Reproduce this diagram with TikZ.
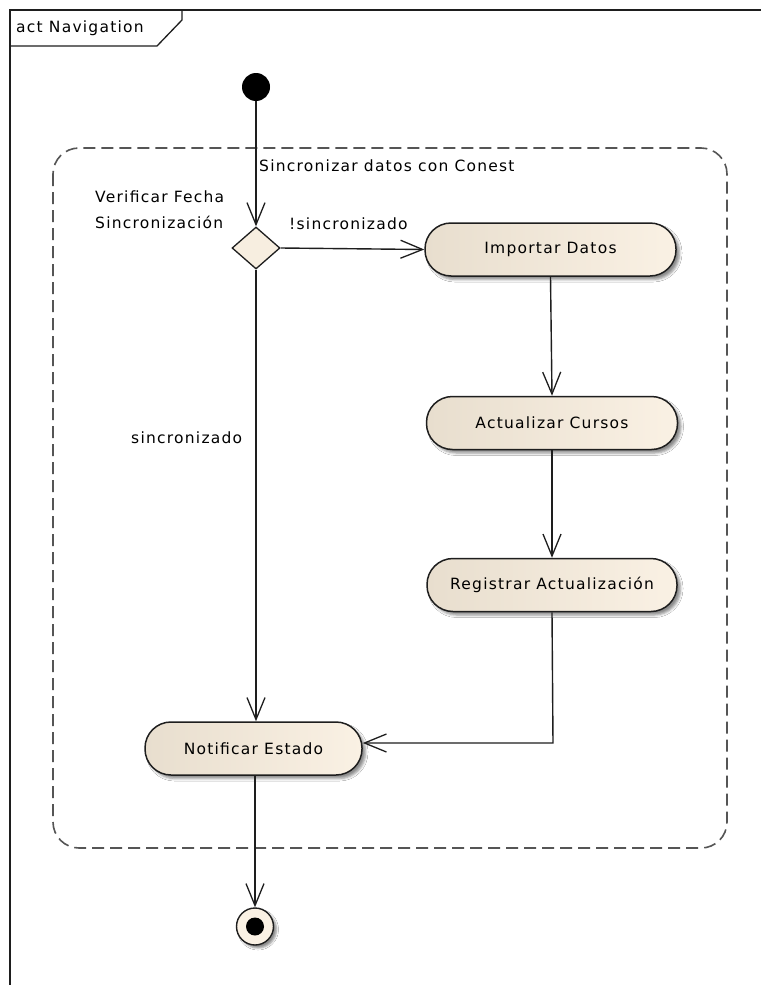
\documentclass[tikz,border=0pt]{standalone}
\usepackage{fontspec}
\setmainfont{DejaVu Sans}[LetterSpace=8]
\usetikzlibrary{arrows.meta,shapes.geometric,shadows.blur}

\definecolor{inkline}{HTML}{1E1E1E}
\definecolor{beigeL}{HTML}{E8DECE}
\definecolor{beigeM}{HTML}{F7EEE0}
\definecolor{beigeR}{HTML}{FAF1E4}
\definecolor{dashgray}{HTML}{555555}

\tikzset{
  every node/.style={font=\fontsize{15.5}{18}\selectfont, text=black},
  action/.style={draw=inkline, line width=1.5pt, rounded corners=26pt,
    left color=beigeL, middle color=beigeM, right color=beigeR,
    minimum height=53pt, inner sep=0pt,
    blur shadow={shadow xshift=3.5pt, shadow yshift=-3.5pt,
      shadow blur radius=2.5pt, shadow opacity=45}},
  decision/.style={diamond, draw=inkline, line width=1.3pt, fill=beigeM,
    minimum width=48pt, minimum height=42pt, inner sep=0pt, aspect=1.15},
  flow/.style={draw=inkline, line width=1.4pt,
    -{Straight Barb[length=22pt, width=18pt, line width=1.3pt]}},
  guard/.style={inner sep=0pt},
}

\begin{document}
\begin{tikzpicture}[x=1pt, y=-1pt]
  \useasboundingbox (0,0) rectangle (761,985);
  \fill[white] (0,0) rectangle (761,985);

  % diagram frame and its name tab
  \draw[inkline, line width=1.3pt] (10,985) -- (10,10) -- (761,10);
  \draw[inkline, line width=1.3pt] (10,46) -- (157,46) -- (182,20) -- (182,10);
  \node[anchor=west, guard] (framelabel) at (16,28) {act Navigation};

  % interruptible region
  \draw[dashgray, line width=1.6pt, dash pattern=on 12pt off 6pt, rounded corners=26pt]
    (53,148) rectangle (727,848);
  \node[anchor=west, guard] (regionlabel) at (259,166) {Sincronizar datos con Conest};

  % initial node
  \fill[black] (256,87) circle (14);
  \coordinate (start) at (256,101);

  % decision
  \node[decision] (dec) at (256,248) {};
  \node[anchor=west, guard] (declabel1) at (95,197) {Verificar Fecha};
  \node[anchor=west, guard] (declabel2) at (95,222) {Sincronización};

  % actions
  \node[action, minimum width=251pt] (imp) at (550.5,249.5) {Importar Datos};
  \node[action, minimum width=251pt] (act) at (552,423) {Actualizar Cursos};
  \node[action, minimum width=250pt] (reg) at (552,585) {Registrar Actualización};
  \node[action, minimum width=217pt] (notif) at (253.5,748.5) {Notificar Estado};

  % final node
  \node[circle, draw=inkline, line width=1.4pt, fill=beigeR, minimum size=37pt, inner sep=0pt,
    blur shadow={shadow xshift=3pt, shadow yshift=-3pt, shadow blur radius=2pt, shadow opacity=45}]
    (final) at (255,926.5) {};
  \fill[black] (final.center) circle (9);

  % flows
  \draw[flow] (start) -- (dec.north);
  \draw[flow] (dec.east) -- (imp.west);
  \node[anchor=west, guard] (g1) at (289,224) {!sincronizado};
  \draw[flow] (dec.south) -- (dec.south |- notif.north);
  \node[anchor=west, guard] (g2) at (131,438) {sincronizado};
  \draw[flow] (imp.south) -- (act.north);
  \draw[flow] (act.south) -- (act.south |- reg.north);
  \draw[flow] (reg.south) -- (553,743) -- (notif.east |- 0,743);
  \draw[flow] (notif.south -| final.north) -- (final.north);
\end{tikzpicture}
\end{document}
